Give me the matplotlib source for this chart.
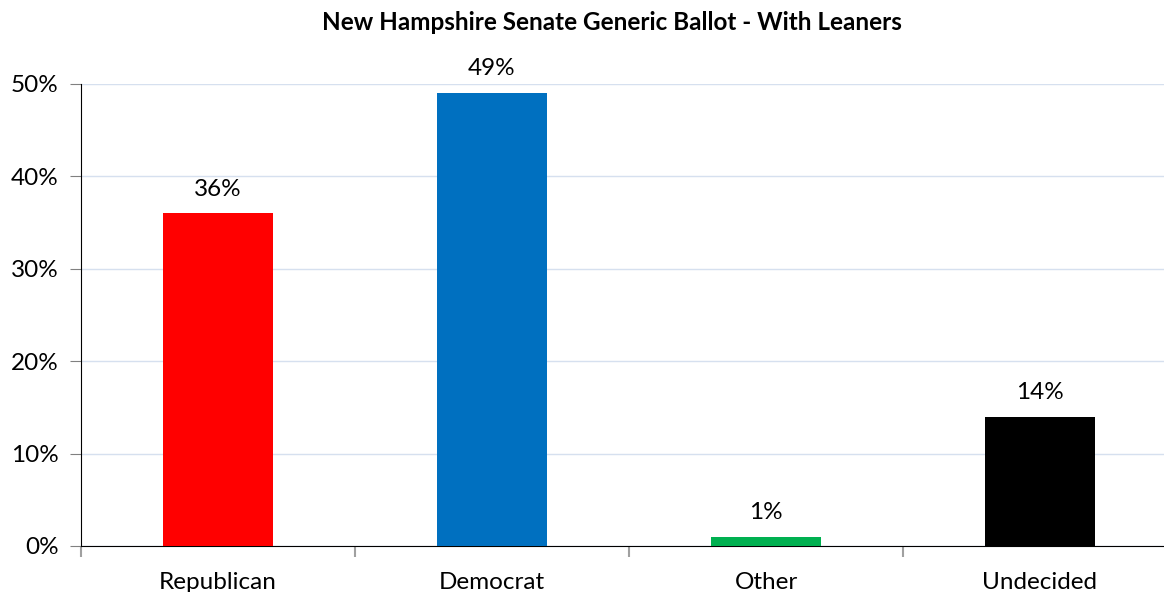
import matplotlib
matplotlib.use("Agg")
import matplotlib.pyplot as plt
from matplotlib.ticker import FuncFormatter

# values
categories = ["Republican", "Democrat", "Other", "Undecided"]
shares = [36, 49, 1, 14]
bar_colors = ["#FF0000", "#0070C0", "#00B050", "#000000"]

plt.rcParams['font.family'] = ['Lato', 'DejaVu Sans']

fig = plt.figure(figsize=(11.64, 5.92), dpi=100)
# axes runs a bit past the right edge, like the original
ax = fig.add_axes([81/1164, 46/592, 1096/1164, 462/592])

x = range(len(categories))
ax.bar(x, shares, width=0.4, color=bar_colors, zorder=3)

for i, v in enumerate(shares):
    ax.text(i, v + 1.5, f"{v}%", ha="center", va="bottom", fontsize=17.5)

ax.set_xlim(-0.5, len(categories) - 0.5)
ax.set_ylim(0, 50)
ax.set_yticks(range(0, 51, 10))
ax.yaxis.set_major_formatter(FuncFormatter(lambda v, p: f"{v:.0f}%"))
ax.grid(axis="y", color="#D6E0EF", linewidth=1, zorder=0)

ax.set_xticks([i - 0.5 for i in range(len(categories) + 1)])
ax.set_xticklabels([])
ax.set_xticks(list(x), minor=True)
ax.set_xticklabels(categories, minor=True, fontsize=17.5)
ax.tick_params(axis="x", which="minor", length=0, pad=19)
ax.tick_params(axis="x", which="major", length=8, color="#A0A0A0", width=1.5)
ax.tick_params(axis="y", length=8, color="#808080", labelsize=17.5, pad=8)

for s in ["top", "right"]:
    ax.spines[s].set_visible(False)
ax.spines["left"].set_color("black")
ax.spines["bottom"].set_color("black")

fig.text(612/1164, 1 - 22/592, "New Hampshire Senate Generic Ballot - With Leaners",
         ha="center", va="center", fontsize=17.5, fontweight="bold")

fig.savefig("out.png", dpi=100)
